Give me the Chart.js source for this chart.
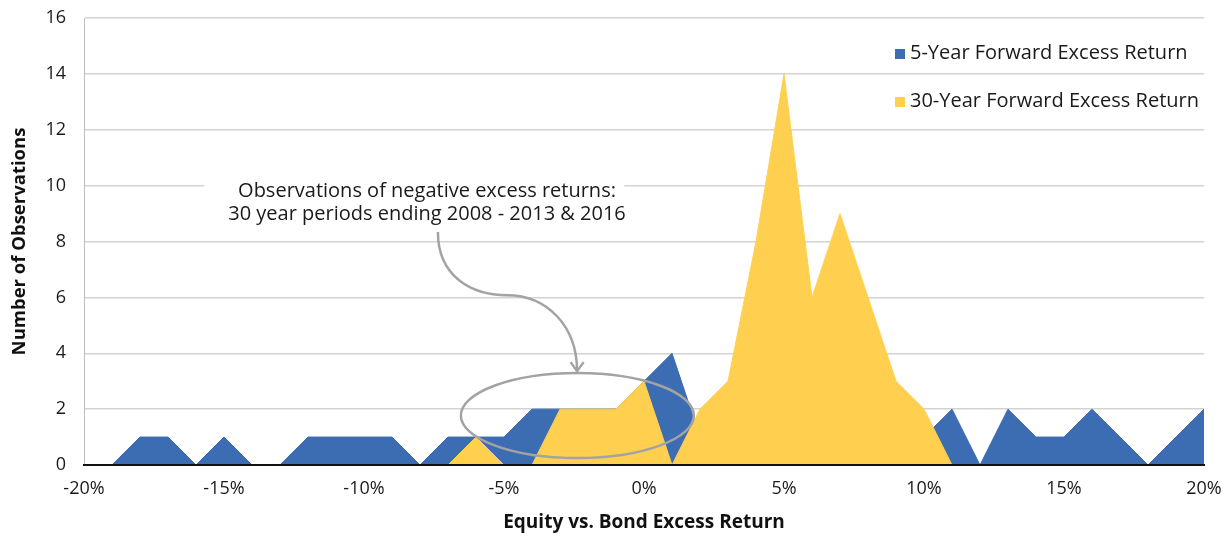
<!DOCTYPE html>
<html>
<head>
<meta charset="utf-8">
<script src="https://cdn.jsdelivr.net/npm/chart.js@4.4.1/dist/chart.umd.min.js"></script>
<style>
  html, body { margin:0; padding:0; background:#fff; }
  canvas { display:block; }
</style>
</head>
<body>
<canvas id="chart" width="1230" height="539"></canvas>
<script>
// excess return buckets (%), one point per bucket
const returnBins = [-20,-19,-18,-17,-16,-15,-14,-13,-12,-11,-10,-9,-8,-7,-6,-5,-4,-3,-2,-1,0,1,2,3,4,5,6,7,8,9,10,11,12,13,14,15,16,17,18,19,20];
const fiveYearCounts = [0,0,1,1,0,1,0,0,1,1,1,1,0,1,1,1,2,2,2,2,3,4,1,2,1,1,2,1,1,1,1,2,0,2,1,1,2,1,0,1,2];
const thirtyYearCounts = [0,0,0,0,0,0,0,0,0,0,0,0,0,0,1,0,0,2,2,2,3,0,2,3,8,14,6,9,6,3,2,0,0,0,0,0,0,0,0,0,0];
const xTickValues = [-20,-15,-10,-5,0,5,10,15,20];
const yTickValues = [0,2,4,6,8,10,12,14,16];
const seriesNames = ["5-Year Forward Excess Return", "30-Year Forward Excess Return"];
const noteLines = ["Observations of negative excess returns:", "30 year periods ending 2008 - 2013 & 2016"];

const BLUE = "#3c6db3";
const YELLOW = "#ffd04f";
const FONT = "'Open Sans', Lato, sans-serif";

// legend + callout drawn on top of the plot
const overlayPlugin = {
  id: "overlay",
  afterDatasetsDraw(chart) {
    const ctx = chart.ctx;
    const xs = chart.scales.x, ys = chart.scales.y;
    const px = v => xs.getPixelForValue(v);
    const py = v => ys.getPixelForValue(v);
    const area = chart.chartArea;

    ctx.save();
    // legend
    ctx.font = "20px " + FONT;
    ctx.textBaseline = "middle";
    ctx.textAlign = "left";
    const colors = [BLUE, YELLOW];
    seriesNames.forEach((name, i) => {
      const y = area.top + 35 + i * 48;
      ctx.fillStyle = colors[i];
      ctx.fillRect(area.right - 309, y - 4, 10, 10);
      ctx.fillStyle = "#1a1a1a";
      ctx.fillText(name, area.right - 294, y);
    });

    // note box
    const bx = px(-8.2);
    ctx.fillStyle = "#fff";
    ctx.fillRect(bx - 210, py(10.5), 420, 60);
    const cx = px(-7.75);
    ctx.font = "20px " + FONT;
    ctx.textAlign = "center";
    ctx.fillStyle = "#1a1a1a";
    ctx.fillText(noteLines[0], cx, py(9.8));
    ctx.fillText(noteLines[1], cx, py(8.97));

    // curved arrow
    ctx.strokeStyle = "#a3a3a3";
    ctx.lineWidth = 2.5;
    const x0 = px(-7.36), y0 = py(8.34);
    const x1 = px(-4.89), y1 = py(6.08);
    const x2 = px(-2.39), y2 = py(3.36);
    ctx.beginPath();
    ctx.moveTo(x0, y0);
    ctx.bezierCurveTo(x0, y0 + 45, x1 - 35, y1, x1, y1);
    ctx.bezierCurveTo(x1 + 40, y1, x2, y2 - 45, x2, y2);
    ctx.stroke();
    ctx.beginPath();
    ctx.moveTo(x2 - 6.5, y2 - 9);
    ctx.lineTo(x2, y2);
    ctx.lineTo(x2 + 6.5, y2 - 9);
    ctx.stroke();

    // ellipse around the negative region
    const ex = px(-2.38), ey = py(1.77);
    ctx.beginPath();
    ctx.ellipse(ex, ey, px(1.78) - ex, ey - py(3.29), 0, 0, Math.PI * 2);
    ctx.stroke();
    ctx.restore();
  }
};

new Chart(document.getElementById("chart"), {
  type: "line",
  data: {
    datasets: [
      {
        label: seriesNames[0],
        data: returnBins.map((x, i) => ({ x, y: fiveYearCounts[i] })),
        backgroundColor: BLUE, borderColor: BLUE, borderWidth: 1,
        fill: "origin", pointRadius: 0, tension: 0, order: 2
      },
      {
        label: seriesNames[1],
        data: returnBins.map((x, i) => ({ x, y: thirtyYearCounts[i] })),
        backgroundColor: YELLOW, borderColor: YELLOW, borderWidth: 1,
        fill: "origin", pointRadius: 0, tension: 0, order: 1
      }
    ]
  },
  options: {
    responsive: false,
    animation: false,
    devicePixelRatio: 1,
    layout: { padding: { top: 18, right: 26, left: 0, bottom: 0 } },
    plugins: { legend: { display: false }, tooltip: { enabled: false } },
    scales: {
      x: {
        type: "linear", min: -20, max: 20,
        afterBuildTicks: s => { s.ticks = xTickValues.map(v => ({ value: v })); },
        afterFit: s => { s.height = 74; s.paddingLeft = 0; s.paddingRight = 0; },
        ticks: { callback: v => v + "%", color: "#1a1a1a", font: { family: FONT, size: 18 }, padding: 13, maxRotation: 0 },
        grid: { color: "rgba(0,0,0,0)", drawTicks: false },
        border: { color: "#111", width: 2, z: 1 },
        title: { display: true, text: "Equity vs. Bond Excess Return", color: "#111",
                 font: { family: FONT, size: 19, weight: "bold" }, padding: { bottom: 5 } }
      },
      y: {
        min: 0, max: 16,
        afterBuildTicks: s => { s.ticks = yTickValues.map(v => ({ value: v })); },
        afterFit: s => { s.width = 84; s.paddingTop = 0; s.paddingBottom = 0; },
        ticks: { color: "#1a1a1a", font: { family: FONT, size: 18 }, padding: 18 },
        grid: { color: "#d3d3d3", lineWidth: 1.5, drawTicks: false },
        border: { color: "#bdbdbd", width: 1 },
        title: { display: true, text: "Number of Observations", color: "#111",
                 font: { family: FONT, size: 18.5, weight: "bold" }, padding: { top: 9 } }
      }
    }
  },
  plugins: [overlayPlugin]
});
</script>
</body>
</html>
